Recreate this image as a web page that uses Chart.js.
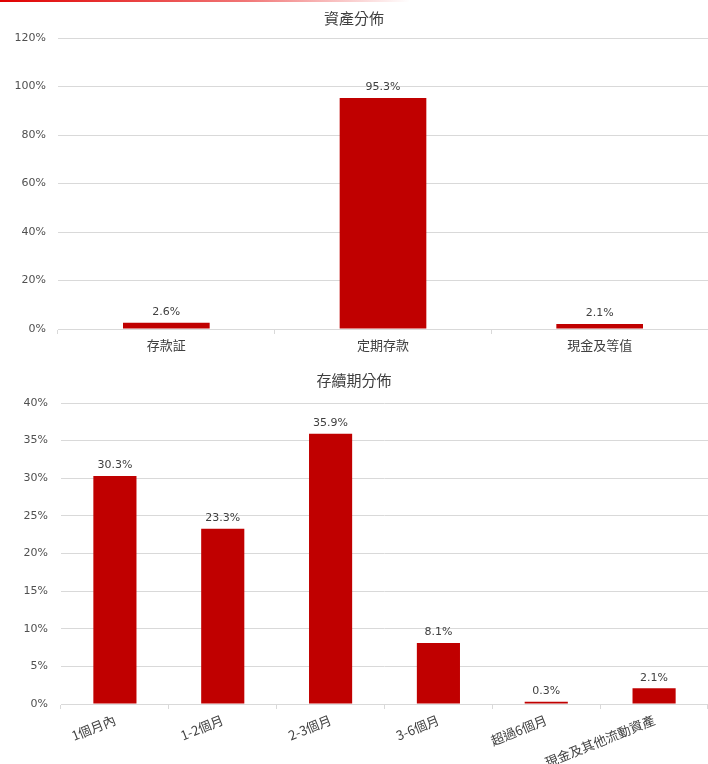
<!DOCTYPE html>
<html><head><meta charset="utf-8">
<script src="https://cdn.jsdelivr.net/npm/chart.js@4.4.0/dist/chart.umd.min.js"></script>
<style>
html,body{margin:0;padding:0;background:#fff;width:708px;height:764px;overflow:hidden;}
#topline{position:absolute;left:0;top:0;width:410px;height:2px;background:linear-gradient(to right,#e00000,rgba(235,60,60,0.7) 60%,rgba(255,255,255,0));}
#w1{position:absolute;left:0;top:0;width:708px;height:360px;}
#w2{position:absolute;left:0;top:360px;width:708px;height:404px;}
</style></head><body>
<div id="topline"></div>
<div id="w1"><canvas id="c1"></canvas></div>
<div id="w2"><canvas id="c2"></canvas></div>
<script>
const assetTitle = '資產分佈';
const assetCategories = ['存款証', '定期存款', '現金及等值'];
const assetValues = [2.6, 95.3, 2.1];
const assetTicks = {min: 0, max: 120, step: 20};

const durationTitle = '存續期分佈';
const durationCategories = ['1個月內', '1-2個月', '2-3個月', '3-6個月', '超過6個月', '現金及其他流動資產'];
const durationValues = [30.3, 23.3, 35.9, 8.1, 0.3, 2.1];
const durationTicks = {min: 0, max: 40, step: 5};

const BAR = '#C00000';
const GRID = '#D9D9D9';
const TXT = '#505050';
const CJK = '"Noto Sans CJK TC", "DejaVu Sans", sans-serif';

const valueLabels = {
  id: 'valueLabels',
  afterDatasetsDraw(chart) {
    const ctx = chart.ctx;
    const meta = chart.getDatasetMeta(0);
    const data = chart.data.datasets[0].data;
    ctx.save();
    ctx.font = '11px "DejaVu Sans", sans-serif';
    ctx.fillStyle = '#404040';
    ctx.textAlign = 'center';
    ctx.textBaseline = 'bottom';
    meta.data.forEach((el, i) => {
      ctx.fillText(data[i].toFixed(1) + '%', el.x, el.y - 5);
    });
    ctx.restore();
  }
};

function makeChart(id, title, cats, vals, t, opts) {
  return new Chart(document.getElementById(id), {
    type: 'bar',
    data: {
      labels: cats,
      datasets: [{data: vals, backgroundColor: BAR, borderWidth: 0,
        categoryPercentage: 1.0, barPercentage: 0.4}]
    },
    plugins: [valueLabels],
    options: {
      responsive: true,
      maintainAspectRatio: false,
      animation: false,
      layout: {padding: {left: 0, right: 0, top: 0, bottom: 0}},
      plugins: {
        legend: {display: false},
        tooltip: {enabled: false},
        title: {display: true, text: title, color: '#404040',
          font: {family: CJK, size: 15, weight: 'normal'},
          padding: opts.titlePad}
      },
      scales: {
        x: {
          grid: {display: true, drawOnChartArea: false, drawTicks: true, tickLength: 5, color: GRID, offset: true},
          border: {display: true, color: GRID},
          ticks: {color: '#404040', font: {family: CJK, size: 13}, padding: 3,
            autoSkip: false, minRotation: opts.rot, maxRotation: opts.rot},
          afterFit(s) { s.height = opts.xHeight; }
        },
        y: {
          min: t.min, max: t.max,
          grid: {color: GRID, drawTicks: false},
          border: {display: false},
          ticks: {stepSize: t.step, color: TXT, padding: opts.yPad,
            font: {family: '"DejaVu Sans", sans-serif', size: 11},
            callback: v => v + '%'},
          afterFit(s) { s.width = opts.yWidth; }
        }
      }
    }
  });
}

makeChart('c1', assetTitle, assetCategories, assetValues, assetTicks,
  {titlePad: {top: 9, bottom: 11}, rot: 0, xHeight: 31, yWidth: 58, yPad: 12});
makeChart('c2', durationTitle, durationCategories, durationValues, durationTicks,
  {titlePad: {top: 11, bottom: 14}, rot: 22, xHeight: 60, yWidth: 61, yPad: 13});
</script>
</body></html>
